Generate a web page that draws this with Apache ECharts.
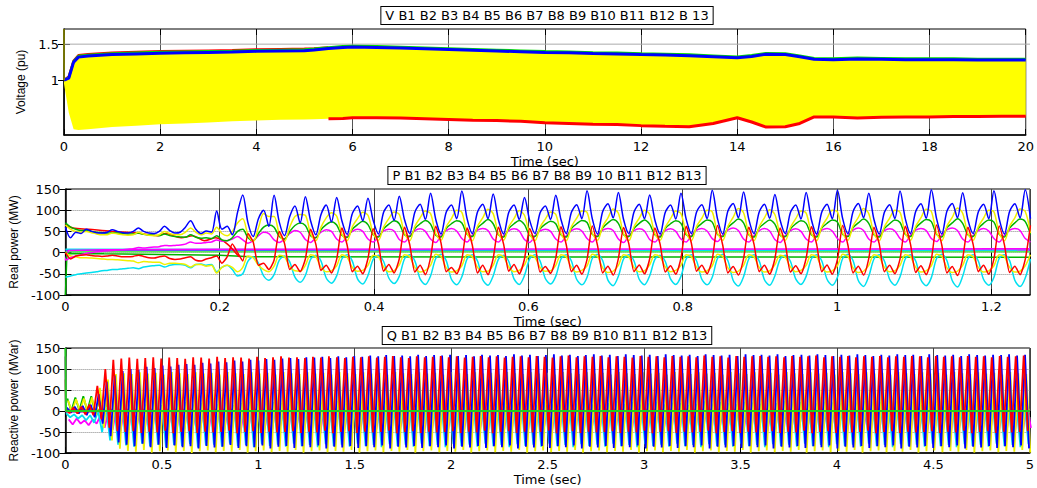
<!DOCTYPE html>
<html><head><meta charset="utf-8">
<script src="https://cdn.jsdelivr.net/npm/echarts@6/dist/echarts.min.js"></script>
<style>html,body{margin:0;padding:0;background:#fff}#c{width:1037px;height:488px}</style>
</head><body><div id="c"></div>
<script>
// ================= TEXT =================
const vTitle = 'V B1 B2 B3 B4 B5 B6 B7 B8 B9 B10 B11 B12 B 13';
const pTitle = 'P B1 B2 B3 B4 B5 B6 B7 B8 B9 10 B11 B12 B13';
const qTitle = 'Q B1 B2 B3 B4 B5 B6 B7 B8 B9 B10 B11 B12 B13';
const xName = 'Time (sec)';
const vYName = 'Voltage (pu)', pYName = 'Real power (MW)', qYName = 'Reactive power (MVar)';
const vYTicks = [1, 1.5];

// ================= VOLTAGE (envelopes of the dense traces) =================
const vTime = [0,0.1,0.2,0.3,0.5,1,1.5,2,2.5,3,3.5,4,4.5,5,5.2,5.5,5.8,6,6.5,7,7.5,8,8.5,9,9.5,10,10.5,11,11.5,12,12.5,13,13.5,14,14.3,14.6,15,15.3,15.6,16,16.5,17,17.5,18,18.5,19,19.5,20];
const vBlue = [1.00,1.03,1.25,1.32,1.335,1.355,1.365,1.375,1.38,1.385,1.39,1.40,1.405,1.41,1.42,1.44,1.455,1.46,1.455,1.445,1.435,1.425,1.415,1.405,1.395,1.385,1.38,1.37,1.365,1.355,1.35,1.34,1.325,1.31,1.33,1.36,1.355,1.325,1.29,1.285,1.295,1.29,1.285,1.285,1.285,1.28,1.28,1.28];
const vGreen = [1.0,1.04,1.26,1.335,1.35,1.37,1.38,1.39,1.395,1.40,1.405,1.415,1.42,1.425,1.435,1.455,1.47,1.475,1.47,1.46,1.45,1.44,1.43,1.42,1.41,1.40,1.395,1.385,1.38,1.37,1.365,1.355,1.34,1.325,1.345,1.375,1.37,1.34,1.305,1.30,1.31,1.305,1.30,1.30,1.30,1.295,1.295,1.295];
const vLower = [0.95,0.55,0.32,0.31,0.32,0.35,0.37,0.39,0.40,0.415,0.43,0.44,0.45,0.455,0.46,0.465,0.47,0.48,0.48,0.475,0.465,0.455,0.445,0.44,0.43,0.41,0.40,0.39,0.385,0.37,0.36,0.355,0.40,0.48,0.42,0.35,0.355,0.40,0.49,0.49,0.475,0.485,0.49,0.49,0.495,0.495,0.50,0.50];
const vRedTopTime = [0,0.1,0.2,0.3,0.5,1,1.5,2,2.5,3,3.5,4,4.5,5,5.2,5.5];
const vRedTop = [1.0,1.05,1.27,1.345,1.36,1.38,1.39,1.40,1.405,1.41,1.415,1.425,1.43,1.435,1.44,1.455];
const vOliveTime = [0,0.001], vOlive = [1.71,1.0];

// ================= REAL POWER (uniform samples, dt = pDt) =================
const pDt = 0.00676;
const pBlue = [60,35,48,45,55,50,47,46,48,54,50,47,46,50,58,50,46,45,50,62,52,46,48,60,75,55,45,51,48,98,55,62,42,95,
136,70,38,80,100,62, 135,72,40,85,110,70, 132,75,42,90,112,72, 130,75,43,92,110,75, 128,76,44,95,112,76,
133,78,45,96,114,78, 140,78,44,95,112,80, 145,80,45,96,114,80, 138,78,44,95,112,78, 130,76,45,94,110,78,
135,78,45,95,113,80, 146,80,44,97,115,82, 142,78,45,96,114,80, 136,77,44,95,112,79, 140,79,45,96,113,80,
147,80,44,98,116,82, 143,79,45,96,114,81, 137,77,45,95,112,79, 142,78,44,96,114,80, 147,80,45,97,116,82,
140,78,44,95,113,80, 145,80,45,97,115,81, 148,80,44,98,116,82, 141,78,45,96,114,80, 146,80,44,97,115,82, 148,80];
const pYellow1 = [65,55,50,48,50,47,44,42,42,46,44,42,41,42,48,44,41,40,42,50,45,42,42,48,58,48,42,46,44,60,45,40,50,70,
80,42,26,58,92,85, 85,44,27,60,85,90, 88,45,28,60,82,94, 86,44,28,61,80,95, 88,45,29,60,80,96,
90,46,28,62,82,98, 92,45,29,61,80,100, 95,46,28,62,82,102, 92,45,29,61,80,99, 88,44,28,60,79,96,
90,45,28,61,81,98, 95,46,29,62,82,103, 93,45,28,61,81,100, 90,45,29,60,80,98, 92,46,28,62,81,100,
96,46,29,62,83,104, 94,45,28,61,82,101, 90,45,29,60,80,98, 93,46,28,61,81,100, 96,46,29,63,83,104,
92,45,28,61,81,100, 95,46,29,62,82,102, 97,46,28,63,83,105, 93,45,29,61,81,100, 96,46,28,62,82,103, 97,46];
const pGreen1 = [70,60,55,52,52,50,48,47,46,47,46,45,44,44,46,43,42,41,40,44,40,38,37,36,42,36,34,35,33,40,30,28,35,50,
55,35,28,45,60,65, 60,38,32,50,64,70, 64,40,35,54,66,73, 65,41,36,55,66,74, 66,42,37,56,67,75,
68,42,38,57,68,76, 67,41,37,57,68,75, 70,43,38,58,69,78, 68,42,37,57,68,76, 66,41,38,56,67,74,
68,42,37,57,68,76, 71,43,38,58,70,78, 69,42,38,57,69,77, 67,42,37,57,68,75, 69,42,38,58,69,77,
72,43,38,59,70,79, 70,42,37,58,69,77, 67,41,38,56,68,75, 69,42,37,58,69,77, 72,43,38,59,70,79,
69,42,37,57,68,77, 71,43,38,58,70,78, 73,43,37,59,70,80, 69,42,38,57,69,77, 72,43,37,58,70,79, 73,43];
const pMagenta1 = [-18,-12,-8,-5,-2,0,2,3,4,5,6,7,8,9,12,11,12,13,14,17,16,17,18,20,25,22,22,24,25,30,27,28,32,38,
30,22,28,40,48,45, 30,24,32,45,52,48, 31,24,36,48,54,50, 32,25,38,50,55,50, 32,25,39,51,55,51,
31,25,40,52,56,50, 32,24,40,52,57,51, 33,25,41,53,57,52, 32,25,40,52,56,51, 31,24,39,51,55,50,
32,25,40,52,56,51, 33,25,41,53,57,52, 32,24,40,52,56,51, 31,25,40,52,56,50, 32,25,40,53,57,51,
33,26,41,53,58,52, 32,25,40,52,57,51, 31,24,40,52,56,50, 32,25,41,53,57,51, 33,25,41,53,58,52,
32,25,40,52,56,51, 33,25,41,53,57,52, 33,26,41,54,58,52, 32,25,40,52,57,51, 33,25,41,53,57,52, 33,25];
const pRed1 = [0,-15,-8,-6,-5,-7,-8,-9,-8,-6,-8,-10,-10,-9,-6,-9,-12,-13,-10,-8,-14,-16,-15,-12,-10,-18,-20,-15,-12,-8,-25,-10,20,0,
-20,45,25,-30,-25,-40, -18,50,22,-40,-28,-45, -15,55,20,-42,-30,-48, -16,58,18,-45,-32,-50, -14,56,21,-44,-28,-48,
-15,60,19,-46,-30,-52, -12,62,23,-45,-35,-50, -16,58,18,-48,-30,-52, -14,60,20,-44,-28,-50, -15,57,22,-46,-33,-49,
-13,61,19,-45,-30,-51, -16,63,17,-48,-32,-53, -14,59,21,-45,-29,-50, -15,58,20,-46,-31,-51, -13,62,22,-44,-30,-50,
-16,64,18,-48,-33,-53, -14,60,20,-45,-30,-51, -15,58,21,-46,-31,-50, -13,61,20,-45,-29,-51, -16,64,18,-48,-32,-53,
-14,60,21,-45,-30,-50, -15,62,20,-47,-31,-52, -16,65,18,-48,-33,-54, -14,60,20,-45,-30,-51, -15,63,19,-47,-32,-52, -16,64];
const pCyan1 = [-58,-55,-52,-50,-48,-47,-45,-43,-42,-40,-40,-38,-37,-36,-38,-34,-32,-31,-30,-34,-30,-28,-28,-30,-36,-28,-27,-30,-28,-45,-35,-30,-40,-55,
-50,-20,-10,-25,-55,-65, -52,-18,-8,-22,-58,-70, -54,-16,-6,-20,-60,-72, -55,-15,-5,-20,-62,-74, -54,-16,-6,-21,-60,-73,
-56,-15,-5,-20,-62,-75, -55,-14,-4,-19,-63,-76, -57,-15,-5,-20,-64,-77, -55,-16,-6,-21,-62,-75, -54,-15,-5,-20,-61,-74,
-56,-15,-5,-20,-63,-76, -58,-14,-4,-19,-65,-78, -56,-15,-5,-20,-63,-76, -55,-16,-6,-21,-62,-75, -56,-15,-5,-20,-63,-76,
-58,-14,-4,-19,-65,-79, -57,-15,-5,-20,-64,-77, -55,-16,-6,-21,-62,-75, -56,-15,-5,-20,-63,-77, -58,-14,-4,-19,-66,-80,
-56,-15,-5,-20,-63,-77, -57,-15,-5,-20,-64,-78, -59,-14,-4,-19,-66,-81, -56,-15,-5,-20,-63,-77, -58,-14,-5,-19,-65,-80, -60,-15];
const pYellow2 = [0,-8,-10,-12,-12,-13,-14,-15,-16,-16,-17,-18,-19,-20,-24,-21,-22,-23,-23,-28,-25,-25,-26,-28,-34,-28,-28,-32,-30,-48,-35,-30,-35,-45,
-35,-8,-12,-30,-40,-45, -32,-6,-10,-33,-43,-44, -30,-5,-10,-35,-45,-43, -31,-5,-11,-35,-44,-42, -30,-6,-10,-34,-45,-43,
-29,-5,-10,-35,-46,-42, -30,-4,-9,-36,-46,-43, -31,-5,-10,-35,-45,-44, -30,-5,-10,-34,-45,-42, -29,-6,-11,-35,-44,-43,
-30,-5,-10,-35,-46,-42, -31,-4,-9,-36,-47,-44, -30,-5,-10,-35,-45,-43, -29,-5,-10,-34,-45,-42, -30,-5,-10,-35,-46,-43,
-31,-4,-9,-36,-47,-44, -30,-5,-10,-35,-46,-43, -29,-6,-11,-34,-45,-42, -30,-5,-10,-35,-46,-43, -31,-4,-9,-36,-47,-44,
-30,-5,-10,-35,-45,-43, -30,-5,-10,-35,-46,-43, -31,-4,-9,-36,-47,-44, -30,-5,-10,-35,-46,-43, -31,-5,-10,-35,-46,-44, -31,-5];
// slowly varying P traces: [time], [value]
const pRed2T = [0,0.01,0.03,0.06,0.09,0.12,0.13,0.15,0.165,0.18,0.195,0.21,0.225];
const pRed2V = [65,58,55,50,47,40,45,35,40,28,35,20,-10];
const pGreen2T = [0,0.002,0.05,0.1,0.15,0.2,0.24,1.25];
const pGreen2V = [-100,-2,-3,-4,-5,-6,-10,-11];
const pMagenta2T = [0,0.004,0.05,0.2,1.25];
const pMagenta2V = [-18,5,7,8,9];
const pBlue2T = [0,1.25], pBlue2V = [5,6];
const pLightGreenT = [0,1.25], pLightGreenV = [2,2];
const pCyan2T = [0,1.25], pCyan2V = [8,4];

// ================= REACTIVE POWER (peak/trough samples, dt = qDt) =================
const qDt = 0.0207;
const qRed = [5,-5,8,-6,10,-8,15,-10, 60,-20,100,-40,122,-48,
125,-50,127,-48,124,-52,126,-49,128,-51,125,-47,127,-53,126,-50,124,-48,128,-52,
127,-49,125,-51,129,-50,126,-47,128,-53,127,-50,125,-48,129,-52,126,-49,128,-51,
130,-50,127,-48,128,-52,126,-49,129,-51,127,-47,130,-53,128,-50,126,-48,129,-52,
128,-49,130,-51,127,-50,129,-47,131,-53,128,-50,126,-48,130,-52,128,-49,129,-51,
131,-50,128,-48,130,-52,127,-49,129,-51,131,-47,128,-53,130,-50,127,-48,129,-52,
130,-49,128,-51,131,-50,129,-47,127,-53,130,-50,132,-48,128,-52,130,-49,129,-51,
131,-50,128,-48,130,-52,129,-49,127,-51,131,-47,129,-53,130,-50,128,-48,131,-52,
129,-49,130,-51,128,-50,132,-47,129,-53,130,-50,127,-48,131,-52,129,-49,130,-51,
131,-50,129,-48,130,-52,128,-49,131,-51,129,-47,130,-53,132,-50,128,-48,130,-52,
129,-49,131,-51,128,-50,130,-47,129,-53,131,-50,128,-48,130,-52,129,-49,131,-51,
130,-50,128,-48,131,-52,129,-49,130,-51,128,-47,131,-53,129,-50,130,-48,128,-52,
131,-49,129,-51,130,-50,132,-48];
const qBlue = [8,-4,10,-6,12,-10,15,-15, 40,-30,70,-60,85,-75,
95,-80,100,-84,98,-78,105,-86,102,-80,108,-88,106,-82,110,-86,112,-84,110,-89,
115,-83,113,-87,118,-85,116,-81,120,-88,118,-84,122,-86,120,-82,124,-89,122,-85,
125,-83,126,-88,124,-84,128,-86,127,-82,129,-89,126,-85,130,-87,128,-83,131,-88,
129,-84,132,-86,130,-82,133,-89,131,-85,132,-87,130,-83,134,-88,131,-84,133,-86,
132,-82,134,-89,131,-85,133,-87,130,-83,134,-88,132,-84,133,-86,131,-82,135,-89,
132,-85,134,-87,131,-83,133,-88,135,-84,132,-86,134,-82,131,-89,133,-85,135,-87,
132,-83,134,-88,131,-84,135,-86,133,-82,132,-89,134,-85,131,-87,135,-83,133,-88,
132,-84,134,-86,131,-82,135,-89,133,-85,132,-87,134,-83,131,-88,135,-84,133,-86,
134,-82,132,-89,135,-85,131,-87,133,-83,134,-88,132,-84,135,-86,133,-82,131,-89,
134,-85,132,-87,135,-83,133,-88,131,-84,134,-86,132,-82,135,-89,133,-85,134,-87,
131,-83,135,-88,133,-84,132,-86,134,-82,131,-89,135,-85,133,-87,132,-83,134,-88,
133,-84,135,-86,132,-82,134,-89];
const qYellow = [25,-2,28,0,30,-5,32,-10, 55,-40,75,-70,88,-90,
90,-95,88,-97,92,-93,89,-99,91,-96,87,-94,93,-98,90,-95,88,-100,92,-96,
89,-94,91,-98,87,-95,93,-97,90,-93,88,-99,92,-96,89,-94,91,-98,87,-95,
93,-97,90,-93,88,-99,92,-96,89,-94,91,-98,87,-95,93,-97,90,-93,88,-99,
92,-96,89,-94,91,-98,87,-95,93,-97,90,-93,88,-99,92,-96,89,-94,91,-98,
87,-95,93,-97,90,-93,88,-99,92,-96,89,-94,91,-98,87,-95,93,-97,90,-93,
88,-99,92,-96,89,-94,91,-98,87,-95,93,-97,90,-93,88,-99,92,-96,89,-94,
91,-98,87,-95,93,-97,90,-93,88,-99,92,-96,89,-94,91,-98,87,-95,93,-97,
90,-93,88,-99,92,-96,89,-94,91,-98,87,-95,93,-97,90,-93,88,-99,92,-96,
89,-94,91,-98,87,-95,93,-97,90,-93,88,-99,92,-96,89,-94,91,-98,87,-95,
93,-97,90,-93,88,-99,92,-96,89,-94,91,-98,87,-95,93,-97,90,-93,88,-99,
92,-96,89,-94,91,-98,87,-95,93,-97,90,-93,88,-99,92,-96,89,-94,91,-98,
87,-95,93,-97,90,-93,88,-99];
const qCyan = [-5,-15,-8,-18,-10,-22,-10,-28, 0,-50,10,-70,15,-80,
18,-82,15,-85,20,-78,16,-84,22,-80,14,-86,19,-81,17,-83,21,-79,15,-87,
18,-82,23,-80,16,-85,20,-78,14,-84,19,-81,22,-86,17,-79,15,-83,21,-80,
18,-85,16,-78,22,-84,19,-81,14,-86,20,-79,17,-83,23,-80,15,-85,18,-78,
21,-84,16,-81,19,-86,14,-79,22,-83,17,-80,20,-85,15,-78,18,-84,23,-81,
16,-86,19,-79,14,-83,21,-80,17,-85,22,-78,15,-84,18,-81,20,-86,16,-79,
23,-83,19,-80,14,-85,21,-78,17,-84,15,-81,22,-86,18,-79,20,-83,16,-80,
14,-85,19,-78,23,-84,17,-81,21,-86,15,-79,18,-83,22,-80,16,-85,20,-78,
19,-84,14,-81,17,-86,23,-79,15,-83,21,-80,18,-85,16,-78,22,-84,20,-81,
17,-86,14,-79,19,-83,23,-80,16,-85,21,-78,15,-84,18,-81,22,-86,20,-79,
17,-83,15,-80,19,-85,23,-78,16,-84,21,-81,14,-86,18,-79,22,-83,20,-80,
16,-85,19,-78,15,-84,23,-81,17,-86,21,-79,14,-83,18,-80,22,-85,20,-78,
16,-84,19,-81,15,-86,23,-79];
const qMagenta = [-20,-32,-18,-30,-22,-34,-20,-30, -10,-40,0,-45,10,-48,
15,-45,20,-40,10,-50,25,-42,18,-48,30,-38,12,-52,22,-44,28,-46,8,-40,
20,-50,15,-43,32,-47,18,-39,25,-53,10,-45,22,-41,30,-49,14,-44,26,-36,
19,-51,33,-42,12,-47,24,-40,28,-54,16,-44,21,-38,35,-48,11,-43,27,-50,
18,-41,30,-46,14,-52,23,-39,29,-45,9,-49,25,-42,31,-55,17,-44,20,-37,
34,-48,13,-43,26,-51,19,-40,28,-46,15,-53,22,-41,32,-47,10,-44,24,-38,
30,-50,17,-45,27,-42,12,-54,21,-47,33,-39,16,-44,25,-49,29,-41,8,-46,
23,-52,31,-43,18,-38,26,-48,14,-45,35,-51,20,-40,28,-47,11,-44,24,-53,
32,-42,15,-46,27,-39,19,-50,30,-44,13,-48,22,-37,34,-52,17,-45,25,-41,
29,-49,10,-43,24,-54,31,-46,16,-40,27,-47,20,-51,33,-42,14,-45,23,-38,
28,-50,18,-44,32,-48,12,-41,25,-53,30,-46,15,-39,26,-49,21,-43,35,-47,
13,-52,24,-40,29,-45,17,-50,31,-42,11,-47,22,-55,27,-44,19,-38,33,-48,
16,-43,26,-51,30,-46,14,-40];
const qGreen = [30,0,32,2,35,0,35,-5, 25,-15,20,-25,15,-30,
15,-30,20,-25,10,-35,18,-28,22,-32,12,-38,17,-27,24,-33,14,-30,19,-36,
21,-29,11,-34,16,-26,23,-31,13,-37,20,-28,18,-33,9,-30,25,-35,15,-27,
19,-32,12,-38,22,-29,17,-34,24,-26,14,-31,20,-36,10,-28,18,-33,23,-30,
13,-35,21,-27,16,-32,25,-37,11,-29,19,-34,22,-26,15,-31,20,-36,8,-28,
17,-33,24,-30,12,-35,20,-27,18,-32,23,-38,14,-29,21,-34,10,-26,19,-31,
22,-36,16,-28,25,-33,13,-30,18,-35,11,-27,24,-32,17,-37,20,-29,15,-34,
9,-26,21,-31,19,-36,14,-28,23,-33,16,-30,12,-35,22,-27,18,-32,25,-38,
13,-29,20,-34,17,-26,10,-31,24,-36,15,-28,21,-33,19,-30,11,-35,23,-27,
16,-32,22,-37,14,-29,18,-34,25,-26,12,-31,20,-36,17,-28,9,-33,21,-30,
19,-35,15,-27,23,-32,13,-38,22,-29,18,-34,10,-26,24,-31,16,-36,20,-28,
14,-33,21,-30,17,-35,25,-27,12,-32,19,-37,23,-29,15,-34,11,-26,22,-31,
18,-36,13,-28,24,-33,16,-30];
const qGreen0T = [0,0.003,5], qGreen0V = [150,0,0];
const qMag0T = [0,0.003,5], qMag0V = [130,-2,-2];
const qTanT = [0,0.003,5], qTanV = [75,3,3];

// ================= BUILD =================
function uni(t0, dt, vals){ return vals.map((v,i)=>[+(t0+i*dt).toFixed(5), v]); }
function zip(ts, vs){ return ts.map((t,i)=>[t, vs[i]]); }
function ln(data, color, xi, w, extra){
  return Object.assign({type:'line', data, xAxisIndex:xi, yAxisIndex:xi, symbol:'none', showSymbol:false,
    silent:true, animation:false, lineStyle:{color, width:w}, itemStyle:{color}}, extra||{});
}
const C = {b:'#0000ff', g:'#00b400', lg:'#55ee55', r:'#ff0000', c:'#00e0f0', m:'#ff00ff', y:'#f0f000', o:'#b0a040'};

// yellow band between the lower and upper voltage envelopes
const vBandSeries = {
  type:'custom', xAxisIndex:0, yAxisIndex:0, silent:true, animation:false, clip:true, z:2,
  data: vTime.map((t,i)=>[t, vBlue[i], vLower[i]]),
  encode:{x:0, y:[1,2]},
  renderItem:(params, api)=>{
    if (params.dataIndex !== 0) return null;
    const pts = [];
    for (let i=0;i<vTime.length;i++) pts.push(api.coord([vTime[i], vBlue[i]]));
    for (let i=vTime.length-1;i>=0;i--) pts.push(api.coord([vTime[i], vLower[i]]));
    return {type:'polygon', shape:{points:pts}, style:{fill:'#ffff00', stroke:'none'}};
  }
};
const vRedLow = zip(vTime, vLower).filter(d=>d[0]>=5.5);

const series = [
  // Voltage
  vBandSeries,
  ln(zip(vRedTopTime, vRedTop), C.r, 0, 2.5),
  ln(zip(vTime, vGreen), '#00dd00', 0, 2.5),
  ln(zip(vTime, vBlue), C.b, 0, 3),
  ln(vRedLow, C.r, 0, 3),
  ln(zip(vOliveTime, vOlive), '#909000', 0, 1.5),
  // Real power
  ln(zip(pBlue2T, pBlue2V), '#6040ff', 1, 1.5),
  ln(zip(pCyan2T, pCyan2V), C.c, 1, 1.5),
  ln(zip(pLightGreenT, pLightGreenV), C.lg, 1, 1.5),
  ln(zip(pMagenta2T, pMagenta2V), C.m, 1, 1.5),
  ln(zip(pGreen2T, pGreen2V), C.g, 1, 1.5),
  ln(zip(pRed2T, pRed2V), C.r, 1, 1.5, {smooth:0.3}),
  ln(uni(0,pDt,pCyan1), C.c, 1, 1.5, {smooth:0.3}),
  ln(uni(0,pDt,pYellow2), C.y, 1, 1.5, {smooth:0.3}),
  ln(uni(0,pDt,pMagenta1), C.m, 1, 1.5, {smooth:0.3}),
  ln(uni(0,pDt,pGreen1), C.g, 1, 1.5, {smooth:0.3}),
  ln(uni(0,pDt,pYellow1), C.y, 1, 1.5, {smooth:0.3}),
  ln(uni(0,pDt,pRed1), C.r, 1, 1.5, {smooth:0.2}),
  ln(uni(0,pDt,pBlue), C.b, 1, 1.5, {smooth:0.3}),
  // Reactive power
  ln(zip(qTanT, qTanV), C.o, 2, 2),
  ln(zip(qMag0T, qMag0V), '#c040c0', 2, 2),
  ln(uni(0.010,qDt,qGreen), C.g, 2, 1.8),
  ln(uni(0.017,qDt,qMagenta), C.m, 2, 1.8),
  ln(uni(0.004,qDt,qCyan), C.c, 2, 1.8),
  ln(uni(0.0135,qDt,qYellow), C.y, 2, 1.8),
  ln(uni(0.007,qDt,qBlue), C.b, 2, 1.8),
  ln(uni(0,qDt,qRed), C.r, 2, 1.8),
  ln(zip(qGreen0T, qGreen0V), '#22cc22', 2, 2)
];

const font = 'DejaVu Sans';
const gridCommon = {left:64, right:7, show:true, borderColor:'#000', borderWidth:1, backgroundColor:'transparent'};
function xAx(gi, max, interval, showMax, gridColor){
  return {type:'value', gridIndex:gi, min:0, max, interval, name:xName, nameLocation:'middle', nameGap:20,
    nameTextStyle:{fontFamily:font, fontSize:13, color:'#000'},
    axisLine:{show:true, onZero:false, lineStyle:{color:'#000', width:1.5}},
    axisTick:{show:true, inside:true, length:6, lineStyle:{color:'#000'}},
    axisLabel:{fontFamily:font, fontSize:13, color:'#000', margin:5, showMaxLabel:showMax},
    splitLine:{show:true, lineStyle:{color:gridColor, width:1, type:'solid'}}};
}
function xTop(gi, max, interval){
  return {type:'value', gridIndex:gi, position:'top', min:0, max, interval,
    axisLine:{show:false}, axisTick:{show:true, inside:true, length:6, lineStyle:{color:'#000'}},
    axisLabel:{show:false}, splitLine:{show:false}};
}
function yAx(gi, name, gap, extra){
  return Object.assign({type:'value', gridIndex:gi, name, nameLocation:'middle', nameGap:gap,
    nameTextStyle:{fontFamily:'Liberation Sans', fontSize:12, color:'#000'},
    axisLine:{show:true, onZero:false, lineStyle:{color:'#000', width:1.5}},
    axisTick:{show:true, inside:true, length:6, lineStyle:{color:'#000'}},
    axisLabel:{fontFamily:font, fontSize:13, color:'#000', margin:5},
    splitLine:{show:true, lineStyle:{color:'#888', width:1, type:'dotted'}}}, extra||{});
}
function yRight(gi, extra){
  return Object.assign({type:'value', gridIndex:gi, position:'right',
    axisLine:{show:false}, axisTick:{show:true, inside:true, length:6, lineStyle:{color:'#000'}},
    axisLabel:{show:false}, splitLine:{show:false}}, extra||{});
}

const option = {
  animation:false,
  textStyle:{fontFamily:font, color:'#000'},
  grid:[
    Object.assign({top:29, height:106}, gridCommon),
    Object.assign({top:189, height:106}, gridCommon),
    Object.assign({top:348, height:105}, gridCommon)
  ],
  xAxis:[xAx(0,20,2,true,'#555'), xAx(1,1.25,0.2,false,'#444'), xAx(2,5,0.5,true,'#444'), xTop(0,20,2), xTop(1,1.25,0.2), xTop(2,5,0.5)],
  yAxis:[
    yAx(0, vYName, 30, {min:0.24, max:1.71,
      axisLabel:{fontFamily:font, fontSize:13, color:'#000', margin:5, customValues:vYTicks},
      axisTick:{show:true, inside:true, length:6, customValues:vYTicks, lineStyle:{color:'#000'}},
      splitLine:{show:false}}),
    yAx(1, pYName, 37, {min:-100, max:150, interval:50}),
    yAx(2, qYName, 39, {min:-100, max:150, interval:50}),
    yRight(0, {min:0.24, max:1.71, axisTick:{show:true, inside:true, length:6, customValues:vYTicks, lineStyle:{color:'#000'}}}),
    yRight(1, {min:-100, max:150, interval:50}),
    yRight(2, {min:-100, max:150, interval:50})
  ],
  graphic:[
    {type:'line', silent:true, z:1, shape:{x1:64, y1:29+106*(1.71-1.5)/1.47, x2:1030, y2:29+106*(1.71-1.5)/1.47}, style:{stroke:'#aaa', lineWidth:1}},
    {type:'text', x:547, y:7, z:100, style:{text:vTitle, fontFamily:font, fontSize:13, fill:'#000', align:'center', verticalAlign:'top', backgroundColor:'#fff', borderColor:'#000', borderWidth:1, padding:[1,4], lineHeight:15}},
    {type:'text', x:547, y:167, z:100, style:{text:pTitle, fontFamily:font, fontSize:13, fill:'#000', align:'center', verticalAlign:'top', backgroundColor:'#fff', borderColor:'#000', borderWidth:1, padding:[1,4], lineHeight:15}},
    {type:'text', x:547, y:327, z:100, style:{text:qTitle, fontFamily:font, fontSize:13, fill:'#000', align:'center', verticalAlign:'top', backgroundColor:'#fff', borderColor:'#000', borderWidth:1, padding:[1,4], lineHeight:15}}
  ],
  series
};
const chart = echarts.init(document.getElementById('c'), null, {renderer:'svg'});
chart.setOption(option);
</script>
</body></html>
